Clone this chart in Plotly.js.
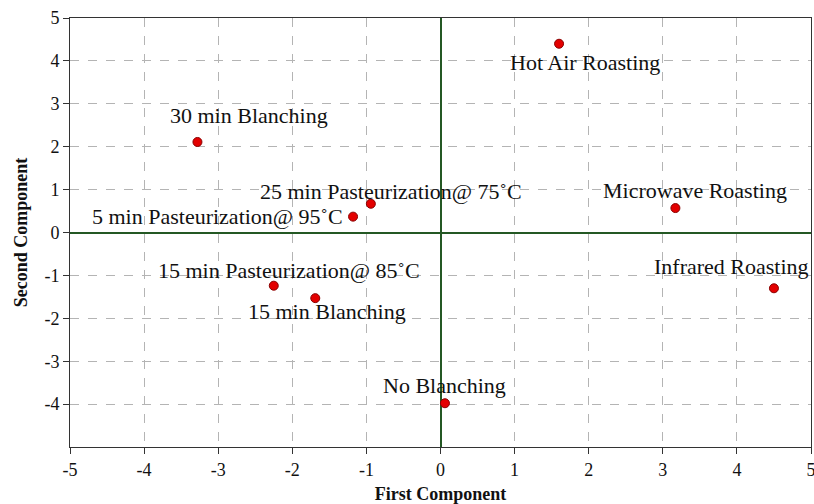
<!DOCTYPE html>
<html>
<head>
<meta charset="utf-8">
<script src="https://cdn.plot.ly/plotly-3.0.1.min.js"></script>
<style>html,body{margin:0;padding:0;background:#fff;}#chart{width:814px;height:504px;}</style>
</head>
<body>
<div id="chart"></div>
<script>
// Data
const labels = [
  "Hot Air Roasting",
  "30 min Blanching",
  "25 min Pasteurization@ 75˚C",
  "5 min Pasteurization@ 95˚C",
  "15 min Pasteurization@ 85˚C",
  "15 min Blanching",
  "Microwave Roasting",
  "Infrared Roasting",
  "No Blanching"
];
const firstComponent  = [1.60, -3.28, -0.94, -1.18, -2.25, -1.69, 3.17, 4.50, 0.06];
const secondComponent = [4.40,  2.11,  0.67,  0.37, -1.24, -1.53, 0.57, -1.30, -3.98];
const xTicks = [-5, -4, -3, -2, -1, 0, 1, 2, 3, 4, 5];
const yTicks = [-4, -3, -2, -1, 0, 1, 2, 3, 4, 5];

// Label placement (pixel offsets from each point)
const labelShiftX = [26, 52, 20, -8, 15, 12, 20, -42, 0];
const labelShiftY = [-19, 26, 12, 0, 15, -13, 18, 22, 18];
const labelAnchor = ["center", "center", "center", "right", "center", "center", "center", "center", "center"];

const serif = "Liberation Serif";

const trace = {
  x: firstComponent,
  y: secondComponent,
  mode: "markers",
  type: "scatter",
  marker: {color: "#e30000", size: 9, line: {color: "#8a0000", width: 1}},
  hoverinfo: "text",
  text: labels
};

const annotations = labels.map((t, i) => ({
  x: firstComponent[i], y: secondComponent[i],
  xref: "x", yref: "y",
  text: t, showarrow: false,
  xanchor: labelAnchor[i], yanchor: "middle",
  xshift: labelShiftX[i], yshift: labelShiftY[i],
  font: {family: serif, size: 22, color: "#111"}
}));

const axisCommon = {
  showgrid: true,
  gridcolor: "#b4b4b4",
  griddash: "dash",
  gridwidth: 1,
  zeroline: true,
  zerolinecolor: "#245824",
  zerolinewidth: 2,
  showline: true,
  linecolor: "#333",
  linewidth: 1,
  mirror: true,
  ticks: "outside",
  ticklen: 6,
  tickcolor: "#333",
  ticklabeloverflow: "allow",
  tickfont: {family: serif, size: 18, color: "#111"}
};

const layout = {
  width: 814, height: 504,
  margin: {l: 70, r: 3, t: 18, b: 57},
  paper_bgcolor: "#fff",
  plot_bgcolor: "#fff",
  showlegend: false,
  font: {family: serif},
  xaxis: Object.assign({}, axisCommon, {
    range: [-5, 5], tickvals: xTicks, ticktext: xTicks.map(String),
    title: {text: "<b>First Component</b>", font: {family: serif, size: 18, color: "#111"}, standoff: 8}
  }),
  yaxis: Object.assign({}, axisCommon, {
    range: [-5, 5], tickvals: yTicks, ticktext: yTicks.map(String),
    title: {text: "<b>Second Component</b>", font: {family: serif, size: 18, color: "#111"}, standoff: 12}
  }),
  annotations: annotations
};

Plotly.newPlot("chart", [trace], layout, {displayModeBar: false, staticPlot: true});
</script>
</body>
</html>
